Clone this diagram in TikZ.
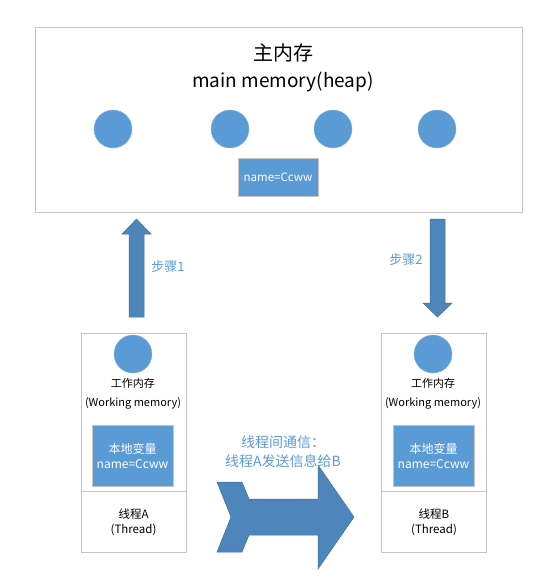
\documentclass[tikz,border=0pt]{standalone}
\usepackage{fontspec}
\setmainfont{Noto Sans CJK SC}
\usetikzlibrary{positioning}
\definecolor{cblue}{HTML}{5B9BD5}
\definecolor{aBlue}{HTML}{4E85BA}
\definecolor{aEdge}{HTML}{41719C}
\definecolor{boxgray}{HTML}{C4C4C4}

\begin{document}
\begin{tikzpicture}[x=1pt,y=-1pt,
    panel/.style={draw=boxgray, line width=0.8pt, fill=white, inner sep=0pt},
    obj/.style={circle, fill=cblue, draw=cblue!75, minimum size=38pt, inner sep=0pt},
    varbox/.style={fill=cblue, draw=boxgray, line width=0.8pt, text=white,
      align=center, inner sep=0pt, font=\fontsize{12}{15}\selectfont},
    small/.style={align=center, font=\fontsize{11.5}{15}\selectfont},
    steplabel/.style={text=cblue, font=\fontsize{13}{16}\selectfont},
    bigarrow/.style={fill=aBlue, draw=aEdge, line width=0.5pt}
  ]
  \useasboundingbox (0,0) rectangle (559,582);

  % main memory
  \node [panel, minimum width=487pt, minimum height=185pt] (heap) at (278.5,119.5) {};
  \node [font=\fontsize{20}{24}\selectfont] (title) at (283,53) {主内存};
  \node [font=\fontsize{19}{22}\selectfont] (subtitle) at (283,82) {main memory(heap)};
  \foreach \x [count=\i] in {113,230,333,437}
    \node [obj] (o\i) at (\x,129) {};
  \node [varbox, minimum width=80pt, minimum height=38pt,
    font=\fontsize{11.5}{13}\selectfont] (shared) at (278,177) {name=Ccww};

  % thread A
  \node [panel, minimum width=105pt, minimum height=158pt] (workA) at (133.5,412) {};
  \node [panel, small, minimum width=105pt, minimum height=61pt,
    below=0pt of workA] (thrA) {线程A\\(Thread)};
  \node [obj] (cA) at (133,354) {};
  \node [small, font=\fontsize{11}{19}\selectfont] (labA) at (133,393.5)
    {工作内存\\(Working memory)};
  \node [varbox, minimum width=81pt, minimum height=61pt] (varA) at (132.5,455.5)
    {本地变量\\name=Ccww};

  % thread B
  \node [panel, minimum width=105pt, minimum height=158pt] (workB) at (434,412) {};
  \node [panel, small, minimum width=105pt, minimum height=61pt,
    below=0pt of workB] (thrB) {线程B\\(Thread)};
  \node [obj] (cB) at (433,354) {};
  \node [small, font=\fontsize{11}{19}\selectfont] (labB) at (433,393.5)
    {工作内存\\(Working memory)};
  \node [varbox, minimum width=81pt, minimum height=61pt] (varB) at (433.5,455.5)
    {本地变量\\name=Ccww};

  % step 1: A -> heap
  \filldraw [bigarrow] (129,317) -- (129,234) -- (122,234) -- (136.5,219)
    -- (151,234) -- (144,234) -- (144,317) -- cycle;
  \node [steplabel] (s1) at (168,267) {步骤1};

  % step 2: heap -> B
  \filldraw [bigarrow] (430,219) -- (430,303) -- (423,303) -- (437.5,317)
    -- (452,303) -- (445,303) -- (445,219) -- cycle;
  \node [steplabel] (s2) at (406,260) {步骤2};

  % A -> B
  \filldraw [bigarrow] (217,482) -- (242,482) -- (249,499) -- (318,499)
    -- (318,465) -- (354,517) -- (318,569) -- (318,535) -- (249,535)
    -- (242,552) -- (217,552) -- (231,517) -- cycle;
  \node [steplabel, align=center, font=\fontsize{14}{19}\selectfont] (msg) at (283,452)
    {线程间通信：\\线程A发送信息给B};
\end{tikzpicture}
\end{document}
